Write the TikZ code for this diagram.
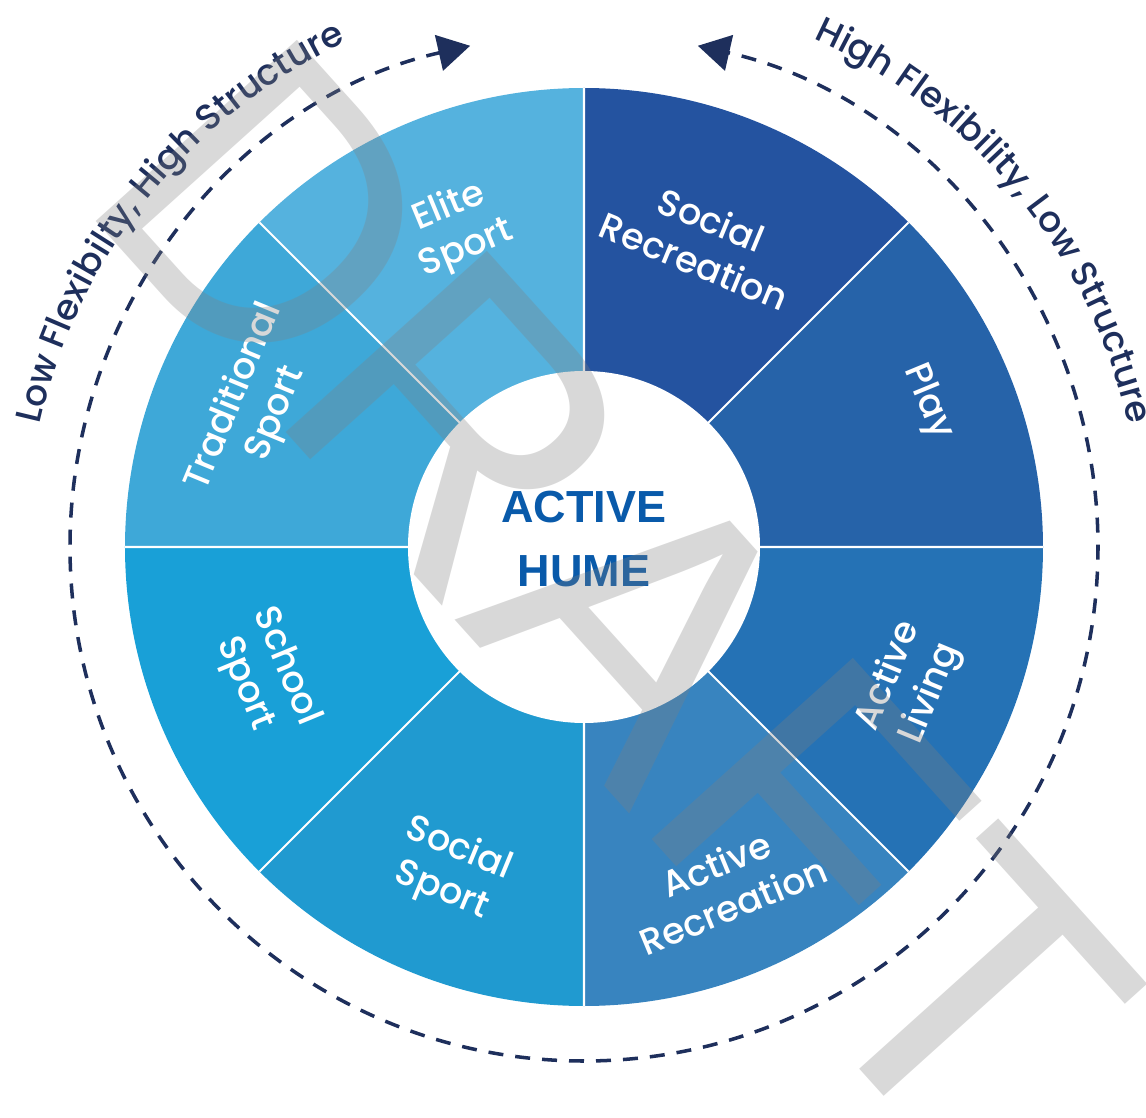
\documentclass[tikz,border=0pt]{standalone}
\usepackage{fontspec}
\IfFontExistsTF{Poppins Medium}{\setmainfont{Poppins Medium}}{\setmainfont{Poppins}}
\newfontfamily\hubfont{Liberation Sans}
\usepackage{tikz}
\usetikzlibrary{arrows.meta,decorations.text}
\definecolor{eliteBlue}{RGB}{85,178,222}
\definecolor{tradBlue}{RGB}{62,168,216}
\definecolor{schoolBlue}{RGB}{25,160,215}
\definecolor{socSportBlue}{RGB}{32,154,208}
\definecolor{actRecBlue}{RGB}{56,132,191}
\definecolor{livingBlue}{RGB}{37,114,181}
\definecolor{playBlue}{RGB}{38,99,169}
\definecolor{socRecBlue}{RGB}{36,83,160}
\definecolor{hubBlue}{RGB}{9,90,170}
\definecolor{scaleNavy}{RGB}{30,47,92}

\begin{document}
\begin{tikzpicture}[
  divider/.style={draw=white, line width=0.6pt},
  sectorlabel/.style={text=white, align=center, inner sep=0pt, font=\fontsize{10.4}{12.8}\selectfont},
  flowarrow/.style={draw=scaleNavy, line width=1pt, dash pattern=on 0.15cm off 0.12cm,
    -{Triangle[length=0.32cm,width=0.36cm]}},
  scalelabel/.style={decorate, decoration={text along path, text align=center,
    text color=scaleNavy, text={|\fontsize{10.2}{12}\selectfont|#1}}},
]
\useasboundingbox (-5.84,-5.70) rectangle (5.62,5.47);
\clip (-5.84,-5.70) rectangle (5.62,5.47);

% eight wedges of the wheel
\fill[socRecBlue] (0,0) -- (45:4.59) arc[start angle=45, end angle=90, radius=4.59] -- cycle;
\fill[eliteBlue] (0,0) -- (90:4.59) arc[start angle=90, end angle=135, radius=4.59] -- cycle;
\fill[tradBlue] (0,0) -- (135:4.59) arc[start angle=135, end angle=180, radius=4.59] -- cycle;
\fill[schoolBlue] (0,0) -- (180:4.59) arc[start angle=180, end angle=225, radius=4.59] -- cycle;
\fill[socSportBlue] (0,0) -- (225:4.59) arc[start angle=225, end angle=270, radius=4.59] -- cycle;
\fill[actRecBlue] (0,0) -- (270:4.59) arc[start angle=270, end angle=315, radius=4.59] -- cycle;
\fill[livingBlue] (0,0) -- (315:4.59) arc[start angle=315, end angle=360, radius=4.59] -- cycle;
\fill[playBlue] (0,0) -- (0:4.59) arc[start angle=0, end angle=45, radius=4.59] -- cycle;
\draw[divider] (0:4.59) -- (180:4.59) (45:4.59) -- (225:4.59)
  (90:4.59) -- (270:4.59) (135:4.59) -- (315:4.59);

% hub
\fill[white] (0,0) circle[radius=1.76];
\node[text=hubBlue, align=center, font=\hubfont\bfseries\fontsize{12.8}{18}\selectfont]
  (hubtitle) at (0,0.08) {ACTIVE\\HUME};

% wedge labels
\node[sectorlabel, rotate=-22.5] (socrec) at (68.8:3.29) {Social\\Recreation};
\node[sectorlabel, rotate=22.5] (elite) at (111.6:3.43) {Elite\\Sport};
\node[sectorlabel, rotate=67.5] (trad) at (156.7:3.58) {Traditional\\Sport};
\node[sectorlabel, rotate=-67.5] (school) at (201.9:3.44) {School\\Sport};
\node[sectorlabel, rotate=-22.5] (socsport) at (247.5:3.50) {Social\\Sport};
\node[sectorlabel, rotate=22.5] (actrec) at (292.6:3.66) {Active\\Recreation};
\node[sectorlabel, rotate=67.5] (living) at (337.1:3.54) {Active\\Living};
\node[sectorlabel, rotate=-67.5] (play) at (22.9:3.73) {Play};

% outer dashed scale with both arrows meeting at the top
\coordinate (scalebottom) at (270:5.14);
\draw[flowarrow] (scalebottom) arc[start angle=270, end angle=102.8, radius=5.14];
\draw[flowarrow, dash phase=0.15cm] (scalebottom) arc[start angle=270, end angle=437.2, radius=5.14];
\path[scalelabel={Low Flexibilty, High Structure}]
  (181.3:5.58) arc[start angle=181.3, end angle=101.3, radius=5.58];
\path[scalelabel={High Flexibility, Low Structure}]
  (79.2:5.58) arc[start angle=79.2, end angle=-0.8, radius=5.58];

% watermark
\node[anchor=base west, rotate=-48, inner sep=0pt, text=black!50, text opacity=0.3,
  font=\hubfont\fontsize{112}{112}\selectfont] (draftmark) at (-5.10,3.50) {DRAFT};
\end{tikzpicture}
\end{document}
